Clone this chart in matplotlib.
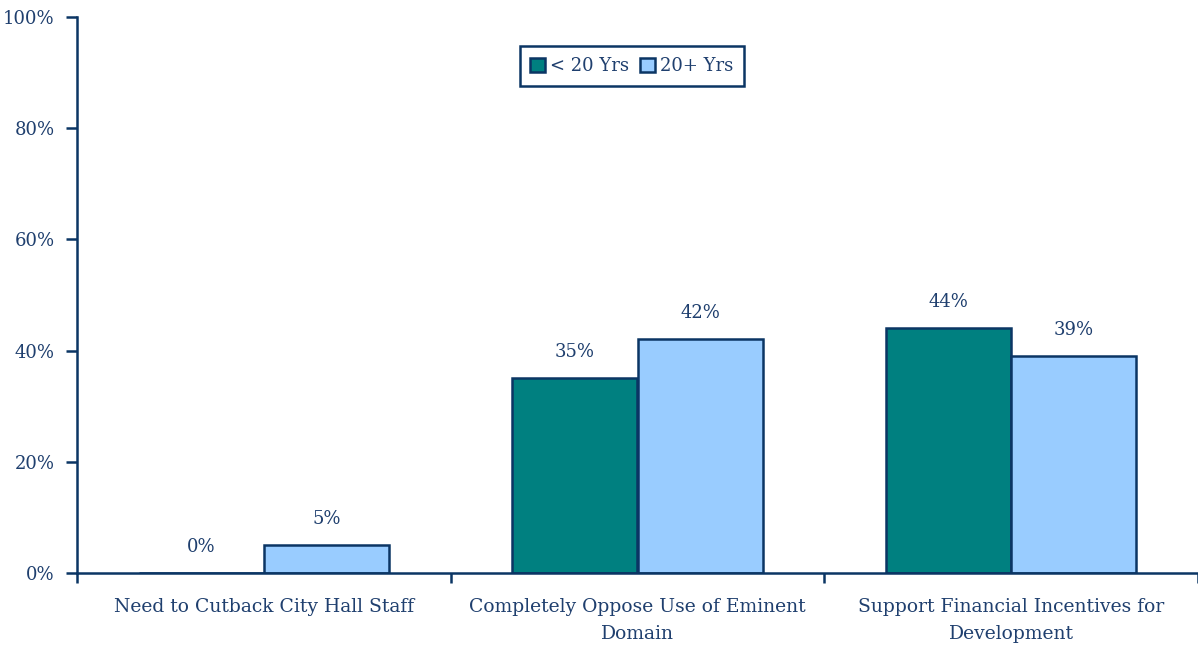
import matplotlib.pyplot as plt
import numpy as np

# Data
categories = ['Need to Cutback City Hall Staff',
              'Completely Oppose Use of Eminent\nDomain',
              'Support Financial Incentives for\nDevelopment']
under20 = [0, 35, 44]
over20 = [5, 42, 39]
series_names = ['< 20 Yrs', '20+ Yrs']

navy = '#0B3564'
text_col = '#1F3F6E'
plt.rcParams['font.family'] = ['DejaVu Serif']

fig = plt.figure(figsize=(11.98, 6.52), dpi=100)
ax = fig.add_axes([77/1198, 79/652, 1121/1198, 556/652])

x = np.arange(len(categories))
w = 0.335
b1 = ax.bar(x - w/2, under20, w, color='#008080', edgecolor=navy, linewidth=1.8, label=series_names[0])
b2 = ax.bar(x + w/2, over20, w, color='#99CCFF', edgecolor=navy, linewidth=1.8, label=series_names[1])

for bars, vals in ((b1, under20), (b2, over20)):
    for r, v in zip(bars, vals):
        ax.annotate('{:d}%'.format(v), (r.get_x() + r.get_width()/2, v),
                    xytext=(0, 19), textcoords='offset points',
                    ha='center', va='center', fontsize=13, color=text_col)

ax.set_xlim(-0.5, 2.5)
ax.set_ylim(0, 100)
ax.set_yticks(np.arange(0, 101, 20))
ax.set_yticklabels(['{:d}%'.format(t) for t in range(0, 101, 20)], fontsize=13, color=text_col)
ax.set_xticks(x)
ax.set_xticklabels(categories, fontsize=13.5, color=text_col, linespacing=1.65)
ax.tick_params(axis='x', which='major', length=0, pad=18)
ax.set_xticks([-0.5, 0.5, 1.5, 2.5], minor=True)
ax.tick_params(axis='x', which='minor', length=7, width=1.8, color=navy, direction='out')
ax.tick_params(axis='y', length=8, width=1.8, color=navy, direction='out', pad=8)

for s in ['top', 'right']:
    ax.spines[s].set_visible(False)
for s in ['left', 'bottom']:
    ax.spines[s].set_color(navy)
    ax.spines[s].set_linewidth(1.8)

leg = ax.legend(loc='center', bbox_to_anchor=(0.495, 0.912), ncol=2, fontsize=13,
                frameon=True, fancybox=False, framealpha=1, handlelength=0.8, handleheight=0.8,
                handletextpad=0.3, columnspacing=0.6, borderpad=0.6)
leg.get_frame().set_edgecolor(navy)
leg.get_frame().set_linewidth(1.8)
for t in leg.get_texts():
    t.set_color(text_col)

plt.savefig('out.png', dpi=100)
